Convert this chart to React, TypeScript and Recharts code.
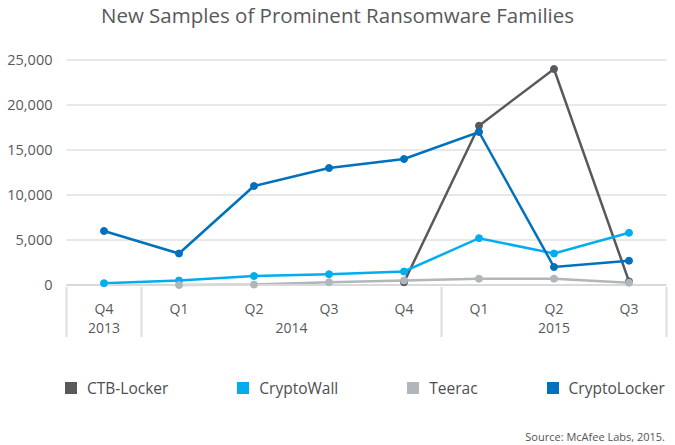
import { LineChart, Line, XAxis, YAxis, CartesianGrid } from "recharts";

const quarters = ["Q4", "Q1", "Q2", "Q3", "Q4", "Q1", "Q2", "Q3"];
const yearGroups = [
  { label: "2013", span: 1 },
  { label: "2014", span: 4 },
  { label: "2015", span: 3 },
];
const ctbLocker = [null, null, null, null, 300, 17700, 24000, 400];
const cryptoWall = [200, 500, 1000, 1200, 1500, 5200, 3500, 5800];
const teerac = [null, 0, 50, 300, 500, 700, 700, 250];
const cryptoLocker = [6000, 3500, 11000, 13000, 14000, 17000, 2000, 2700];
const yTicks = [0, 5000, 10000, 15000, 20000, 25000];

const series = [
  { key: "ctb", name: "CTB-Locker", color: "#58595b", values: ctbLocker },
  { key: "wall", name: "CryptoWall", color: "#00aeef", values: cryptoWall },
  { key: "teerac", name: "Teerac", color: "#b1b6bb", values: teerac },
  { key: "locker", name: "CryptoLocker", color: "#0071bc", values: cryptoLocker },
];

const data = quarters.map((q, i) => {
  const row: Record<string, any> = { id: `p${i}`, quarter: q };
  series.forEach((s) => (row[s.key] = s.values[i]));
  return row;
});

// which index starts each year group
const groupStarts: Record<number, { label: string; span: number }> = {};
let acc = 0;
yearGroups.forEach((g) => {
  groupStarts[acc] = g;
  acc += g.span;
});

const W = 675;
const H = 445;
const margin = { top: 60, right: 8.5, bottom: 110, left: 0 };
const yAxisW = 66.5;
const font = "'Open Sans', sans-serif";
const textColor = "#58595b";
const sepColor = "#dcdcdc";

function QuarterTick(props: any) {
  const { x, y, payload } = props;
  const i = payload.index;
  const half =
    payload.offset && payload.offset > 0
      ? payload.offset
      : (W - margin.left - margin.right - yAxisW) / quarters.length / 2;
  const g = groupStarts[i];
  return (
    <g>
      <text x={x} y={y + 27} textAnchor="middle" fontSize={14} fill={textColor} fontFamily={font}>
        {quarters[i]}
      </text>
      {g && (
        <>
          <line x1={x - half} x2={x - half} y1={y} y2={y + 50} stroke={sepColor} strokeWidth={2} />
          <text
            x={x - half + g.span * half}
            y={y + 46}
            textAnchor="middle"
            fontSize={14}
            fill={textColor}
            fontFamily={font}
          >
            {g.label}
          </text>
        </>
      )}
      {i === quarters.length - 1 && (
        <line x1={x + half} x2={x + half} y1={y} y2={y + 50} stroke={sepColor} strokeWidth={2} />
      )}
    </g>
  );
}

export default function App() {
  return (
    <div style={{ position: "absolute", left: 0, top: 0, width: W, height: H, background: "#fff", fontFamily: font }}>
      <div
        style={{
          position: "absolute",
          top: 1,
          left: 0,
          width: W,
          textAlign: "center",
          fontSize: 20.5,
          color: textColor,
        }}
      >
        New Samples of Prominent Ransomware Families
      </div>
      <LineChart width={W} height={H} data={data} margin={margin}>
        <CartesianGrid vertical={false} stroke="#e8e8e8" strokeWidth={2} />
        <XAxis
          dataKey="id"
          scale="band"
          interval={0}
          tickSize={0}
          tickLine={false}
          axisLine={{ stroke: "#d9d9d9", strokeWidth: 2 }}
          height={50}
          tick={<QuarterTick />}
        />
        <YAxis
          width={yAxisW}
          domain={[0, 25000]}
          ticks={yTicks}
          axisLine={false}
          tickLine={false}
          tickMargin={8}
          tickFormatter={(v: number) => v.toLocaleString("en-US")}
          tick={{ fontSize: 14.5, fill: textColor, fontFamily: font }}
        />
        {series.map((s) => (
          <Line
            key={s.key}
            dataKey={s.key}
            name={s.name}
            stroke={s.color}
            strokeWidth={2.5}
            dot={{ r: 3.5, fill: s.color, stroke: s.color, strokeWidth: 1 }}
            activeDot={false}
            isAnimationActive={false}
          />
        ))}
      </LineChart>
      <div
        style={{
          position: "absolute",
          top: 377,
          left: 65,
          height: 22,
          display: "flex",
          alignItems: "center",
          gap: 69,
          fontSize: 15.5,
          color: "#4d4d4f",
        }}
      >
        {series.map((s) => (
          <div key={s.key} style={{ display: "flex", alignItems: "center" }}>
            <span style={{ width: 12, height: 12, background: s.color, display: "inline-block", marginRight: 10 }} />
            {s.name}
          </div>
        ))}
      </div>
      <div style={{ position: "absolute", top: 429, right: 10, fontSize: 11, color: "#555" }}>
        Source: McAfee Labs, 2015.
      </div>
    </div>
  );
}
